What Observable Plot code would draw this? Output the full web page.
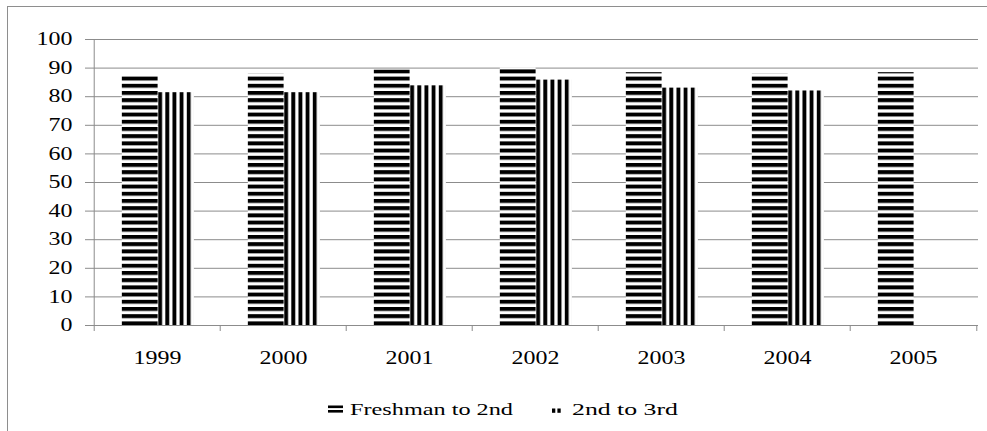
<!DOCTYPE html>
<html><head><meta charset="utf-8">
<script src="https://cdn.jsdelivr.net/npm/d3@7"></script>
<script src="https://cdn.jsdelivr.net/npm/@observablehq/plot@0.6"></script>
<style>
html,body{margin:0;padding:0;background:#fff;overflow:hidden;}
#wrap{position:relative;width:987px;height:431px;overflow:hidden;}
#border{position:absolute;left:7px;top:6px;width:1040px;height:600px;border-left:1px solid #8e8e8e;border-top:1px solid #8e8e8e;box-sizing:border-box;}
#chart{position:absolute;left:0;top:0;}
#legend{position:absolute;left:0;top:0;}
#wrap svg text{font-family:"Liberation Serif",serif !important;}
</style></head><body>
<div id="wrap"><div id="border"></div><div id="chart"></div><svg id="legend" width="987" height="431"></svg></div>
<script>
// ---- data ----
const years = ["1999", "2000", "2001", "2002", "2003", "2004", "2005"];
const freshmanTo2nd = [87.3, 87.9, 89.3, 90.1, 88.4, 87.9, 88.4];
const secondTo3rd = [81.4, 81.4, 83.8, 85.8, 83.0, 82.0, null];
const seriesNames = ["Freshman to 2nd", "2nd to 3rd"];
const yTicks = [0, 10, 20, 30, 40, 50, 60, 70, 80, 90, 100];

// ---- layout ----
const W = 987, H = 385, ML = 92, MR = 9, MT = 39, MB = 60;
const step = (W - ML - MR) / years.length;
const gOff = 0.22 * step, bw = 0.287 * step;
const grid = "#8c8c8c";
const rows = years.map((y, i) => ({year: y, fresh: freshmanTo2nd[i], second: secondTo3rd[i]}));

const plot = Plot.plot({
  width: W, height: H,
  marginLeft: ML, marginRight: MR, marginTop: MT, marginBottom: MB,
  style: {fontFamily: "Liberation Serif", fontSize: "18px", color: "#000", background: "transparent", overflow: "visible"},
  x: {domain: years, padding: 0, axis: null, label: null},
  y: {domain: [0, 100], axis: null, label: null},
  marks: [
    Plot.gridY(yTicks, {stroke: grid, strokeOpacity: 1}),
    Plot.barY(rows.filter(d => d.fresh != null), {x: "year", y: "fresh", fill: "url(#hstripe)", insetLeft: gOff, insetRight: step - gOff - bw}),
    Plot.barY(rows.filter(d => d.second != null), {x: "year", y: "second", fill: "url(#vstripe)", insetLeft: gOff + bw, insetRight: step - gOff - 2 * bw}),
    Plot.ruleY([0], {stroke: grid}),
    Plot.ruleX([years[0]], {dx: -step / 2, stroke: grid}),
    Plot.axisY(yTicks, {tickSize: 7, tickPadding: 13, stroke: grid, strokeOpacity: 1, fontSize: 18, label: null, tickFormat: d => String(d)}),
    Plot.axisX({tickSize: 0, tickPadding: 25.5, fontSize: 18, label: null}),
    Plot.axisX(years, {tickSize: 6, tickFormat: () => "", label: null, dx: -step / 2, stroke: grid, strokeOpacity: 1}),
    Plot.axisX([years[years.length - 1]], {tickSize: 6, tickFormat: () => "", label: null, dx: step / 2, stroke: grid, strokeOpacity: 1})
  ]
});

const y0 = plot.scale("y").apply(0);
d3.select(plot).insert("defs", ":first-child").html(`
  <pattern id="hstripe" patternUnits="userSpaceOnUse" x="0" y="${y0 - 3.6}" width="20" height="7.2">
    <rect width="20" height="7.2" fill="#fff"/>
    <rect y="0" width="20" height="3.7" fill="#000"/>
    <rect y="3.7" width="20" height="0.8" fill="#9a9a9a"/>
  </pattern>
  <pattern id="vstripe" patternUnits="objectBoundingBox" patternContentUnits="objectBoundingBox" x="0" y="0" width="0.2" height="1">
    <rect width="0.2" height="1" fill="#fff"/>
    <rect width="0.1" height="1" fill="#000"/>
    <rect x="0.1" width="0.022" height="1" fill="#9a9a9a"/>
  </pattern>`);

document.getElementById("chart").append(plot);

// stretch tick labels horizontally like the reference
d3.select(plot).selectAll("text").each(function() {
  const l = this.getComputedTextLength();
  if (l > 0) {
    this.setAttribute("textLength", l * 1.33);
    this.setAttribute("lengthAdjust", "spacingAndGlyphs");
  }
});

// ---- legend ----
const leg = d3.select("#legend");
// marker 1: horizontal stripes
leg.append("rect").attr("x", 328).attr("y", 405.5).attr("width", 15).attr("height", 2.6).attr("fill", "#000");
leg.append("rect").attr("x", 328).attr("y", 410).attr("width", 15).attr("height", 2.6).attr("fill", "#000");
leg.append("text").attr("x", 350).attr("y", 414.5).attr("font-size", 16.6)
  .attr("textLength", 163).attr("lengthAdjust", "spacingAndGlyphs").text(seriesNames[0]);
// marker 2: vertical stripes
leg.append("rect").attr("x", 552).attr("y", 408.5).attr("width", 3.3).attr("height", 4.3).attr("fill", "#000");
leg.append("rect").attr("x", 557.4).attr("y", 408.5).attr("width", 3.3).attr("height", 4.3).attr("fill", "#000");
leg.append("text").attr("x", 572).attr("y", 414.5).attr("font-size", 16.6)
  .attr("textLength", 106).attr("lengthAdjust", "spacingAndGlyphs").text(seriesNames[1]);
</script>
</body></html>
